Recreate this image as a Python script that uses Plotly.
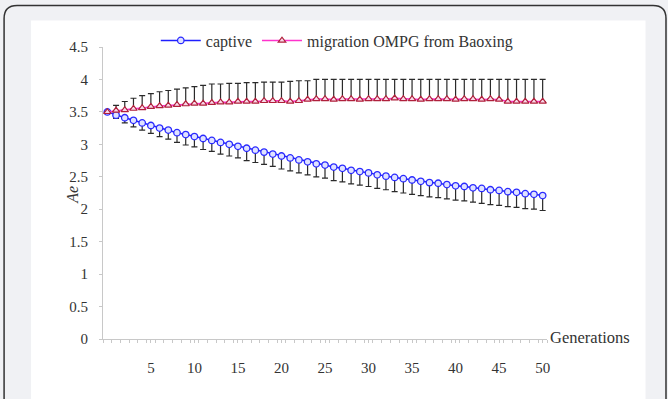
import plotly.graph_objects as go

generations = list(range(0, 51))

captive_mean = [3.50, 3.45, 3.41, 3.37, 3.33, 3.29, 3.25, 3.22, 3.18, 3.15,
                3.12, 3.09, 3.06, 3.03, 3.00, 2.97, 2.94, 2.91, 2.88, 2.85,
                2.82, 2.79, 2.76, 2.73, 2.70, 2.68, 2.65, 2.63, 2.60, 2.58,
                2.56, 2.53, 2.51, 2.49, 2.47, 2.45, 2.43, 2.41, 2.40, 2.38,
                2.36, 2.35, 2.33, 2.32, 2.30, 2.29, 2.27, 2.26, 2.24, 2.23,
                2.21]
captive_sd = [0.00, 0.05, 0.08, 0.10, 0.11, 0.12, 0.13, 0.14, 0.15, 0.16,
              0.16, 0.17, 0.17, 0.18, 0.18, 0.18, 0.19, 0.19, 0.19, 0.19,
              0.20, 0.20, 0.20, 0.20, 0.20, 0.20, 0.21, 0.21, 0.21, 0.21,
              0.21, 0.21, 0.21, 0.22, 0.22, 0.22, 0.22, 0.22, 0.22, 0.22,
              0.22, 0.22, 0.22, 0.23, 0.23, 0.23, 0.23, 0.23, 0.23, 0.23,
              0.23]

migration_mean = [3.50, 3.52, 3.53, 3.55, 3.56, 3.58, 3.59, 3.60, 3.61, 3.62,
                  3.63, 3.63, 3.64, 3.65, 3.65, 3.66, 3.66, 3.66, 3.67, 3.67,
                  3.67, 3.66, 3.67, 3.69, 3.70, 3.70, 3.69, 3.70, 3.70, 3.69,
                  3.70, 3.70, 3.70, 3.71, 3.70, 3.70, 3.69, 3.70, 3.70, 3.70,
                  3.69, 3.70, 3.70, 3.69, 3.70, 3.69, 3.66, 3.66, 3.66, 3.66,
                  3.66]
migration_upper = [3.50, 3.60, 3.66, 3.71, 3.75, 3.78, 3.81, 3.83, 3.85, 3.87,
                   3.89, 3.91, 3.93, 3.93, 3.94, 3.94, 3.95, 3.95, 3.96, 3.96,
                   3.96, 3.97, 3.98, 3.98, 4.00, 4.00, 4.00, 4.00, 4.00, 4.00,
                   4.00, 4.00, 4.00, 4.00, 4.00, 4.00, 4.00, 4.00, 4.00, 4.00,
                   4.00, 4.00, 4.00, 4.00, 4.00, 4.00, 4.00, 4.00, 4.00, 4.00,
                   4.00]
migration_sd = [round(u - m, 3) for u, m in zip(migration_upper, migration_mean)]

x_tick_vals = [5, 10, 15, 20, 25, 30, 35, 40, 45, 50]
y_tick_vals = [0, 0.5, 1, 1.5, 2, 2.5, 3, 3.5, 4, 4.5]
y_tick_text = ["0", "0.5", "1", "1.5", "2", "2.5", "3", "3.5", "4", "4.5"]

SERIF = "Liberation Serif, Times New Roman, serif"
W, H = 668, 399
L, R, T, B = 103, 547.4, 46.5, 339.0


def px(x):
    return (x - L) / (R - L)


def py(y):
    return (B - y) / (B - T)


fig = go.Figure()

fig.add_trace(go.Scatter(
    x=generations, y=captive_mean, name="captive", mode="lines+markers",
    line=dict(color="#1f1fff", width=1.5),
    marker=dict(symbol="circle", size=6.5, color="#dfe2ff",
                line=dict(color="#2a2aff", width=1.3)),
    error_y=dict(type="data", symmetric=False,
                 array=[0] * len(captive_sd), arrayminus=captive_sd,
                 color="#2a2a2a", thickness=1.2, width=3),
))

fig.add_trace(go.Scatter(
    x=generations, y=migration_mean, name="migration OMPG from Baoxing",
    mode="lines+markers",
    line=dict(color="#ff33cc", width=1.5),
    marker=dict(symbol="triangle-up", size=6.5, color="#f8d8e8",
                line=dict(color="#b0203c", width=1.2)),
    error_y=dict(type="data", symmetric=False,
                 array=migration_sd, arrayminus=[0] * len(migration_sd),
                 color="#2a2a2a", thickness=1.2, width=3),
))

shapes = []
# white card
shapes.append(dict(type="rect", xref="paper", yref="paper", layer="below",
                   x0=px(31), x1=px(646), y0=py(20), y1=py(399 + 5),
                   fillcolor="white", line=dict(width=0)))
# rounded frame
r = 13
path = (f"M {px(4)},{py(400)} L {px(4)},{py(5 + r)} "
        f"Q {px(4)},{py(5)} {px(4 + r)},{py(5)} "
        f"L {px(666.5 - r)},{py(5)} "
        f"Q {px(666.5)},{py(5)} {px(666.5)},{py(5 + r)} "
        f"L {px(666.5)},{py(400)}")
shapes.append(dict(type="path", xref="paper", yref="paper", layer="below",
                   path=path, line=dict(color="#333333", width=1.5)))

fig.update_layout(
    width=W, height=H,
    margin=dict(l=L, r=W - R, t=T, b=H - B, pad=0),
    paper_bgcolor="#f0f1f4",
    plot_bgcolor="rgba(0,0,0,0)",
    font=dict(family=SERIF, size=15, color="#333333"),
    showlegend=True,
    legend=dict(orientation="h", x=px(337), xanchor="center",
                y=py(40), yanchor="middle", bgcolor="rgba(0,0,0,0)",
                font=dict(family=SERIF, size=16, color="#333333"),
                itemwidth=40, tracegroupgap=0),
    shapes=shapes,
    xaxis=dict(range=[-0.5, 50.5], tickmode="array", tickvals=x_tick_vals,
               ticktext=[str(v) for v in x_tick_vals],
               showgrid=False, zeroline=False, showline=True,
               linecolor="#c8c8c8", linewidth=1,
               ticks="outside", ticklen=3, tickcolor="#c8c8c8",
               minor=dict(dtick=1, tick0=-0.5, ticks="outside", ticklen=3,
                          tickcolor="#c8c8c8", showgrid=False),
               ticklabelstandoff=12,
               tickfont=dict(family=SERIF, size=15, color="#333333")),
    yaxis=dict(range=[0, 4.5], tickmode="array", tickvals=y_tick_vals,
               ticktext=y_tick_text, showgrid=False, zeroline=False,
               showline=True, linecolor="#c8c8c8", linewidth=1,
               ticks="outside", ticklen=3, tickcolor="#c8c8c8",
               ticklabelstandoff=8,
               tickfont=dict(family=SERIF, size=15, color="#333333")),
    annotations=[
        dict(text="<i>Ae</i>", xref="paper", yref="paper", x=px(62), y=py(195),
             showarrow=False, textangle=-90,
             font=dict(family=SERIF, size=16, color="#333333")),
        dict(text="Generations", xref="paper", yref="paper", x=px(548),
             y=py(337), xanchor="left", yanchor="middle", showarrow=False,
             font=dict(family=SERIF, size=16.5, color="#333333")),
    ],
)

fig.write_html("out.html")
